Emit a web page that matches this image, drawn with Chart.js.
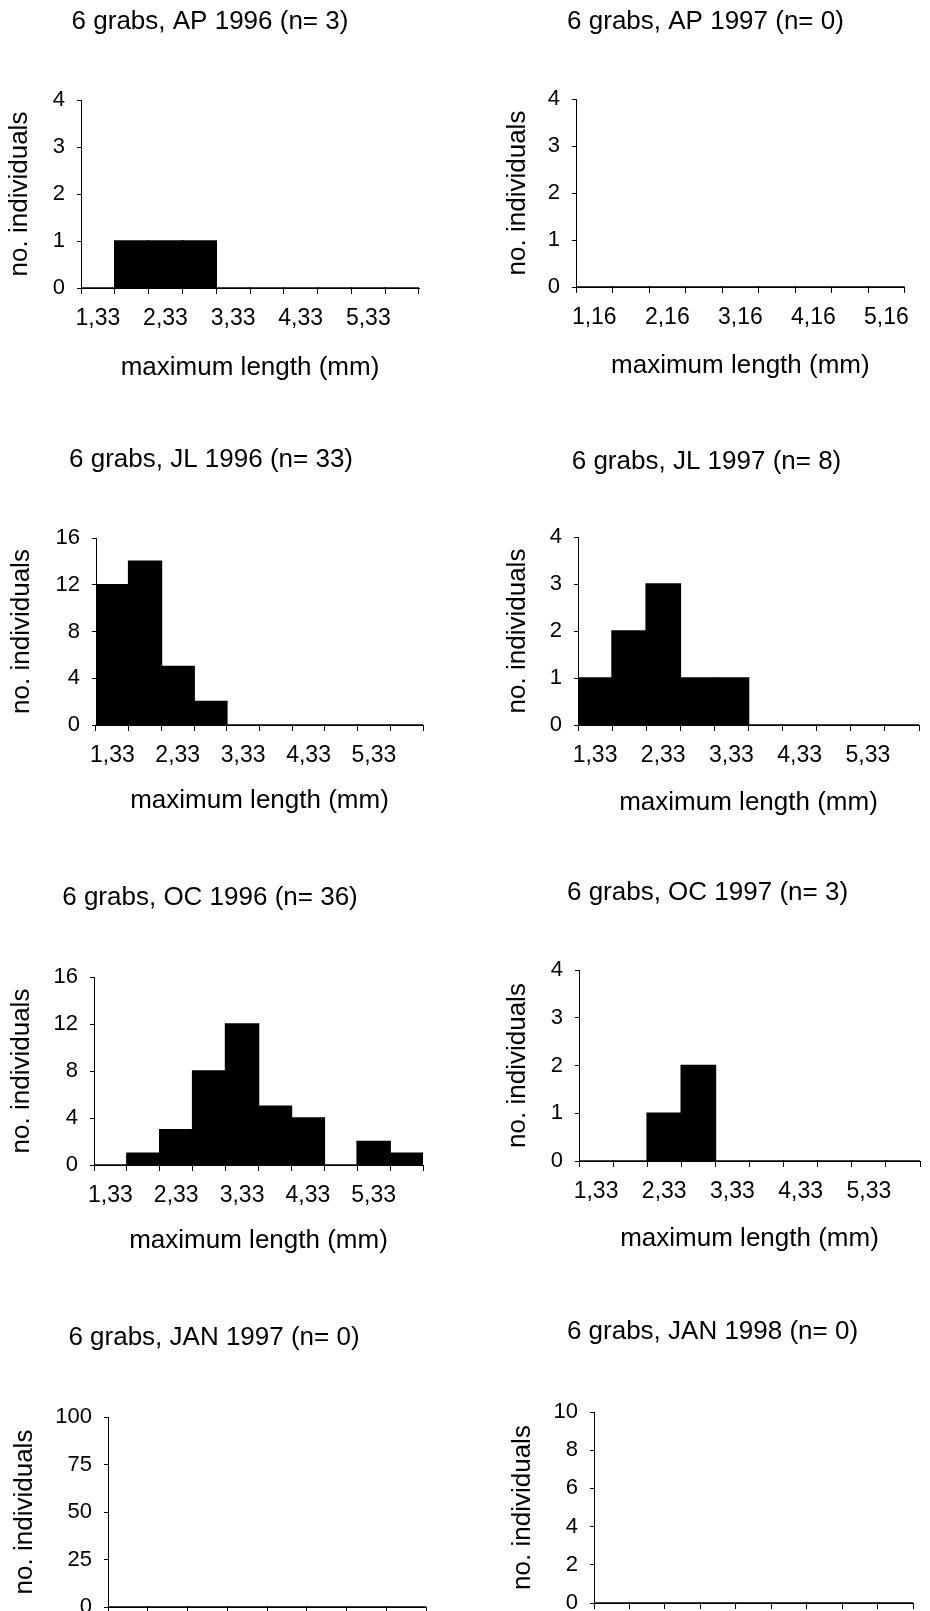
<!DOCTYPE html>
<html>
<head>
<meta charset="utf-8">
<script src="https://cdn.jsdelivr.net/npm/chart.js@4.4.1/dist/chart.umd.min.js"></script>
<style>
  html, body { margin: 0; padding: 0; background: #fff; }
  #page { position: relative; width: 930px; height: 1611px; overflow: hidden; background: #fff; }
  #page canvas { position: absolute; }
</style>
</head>
<body>
<div id="page"></div>
<script>
// size classes, 0.5 mm wide
const binsA = ["1,33", "1,83", "2,33", "2,83", "3,33", "3,83", "4,33", "4,83", "5,33", "5,83"];
const binsB = ["1,16", "1,66", "2,16", "2,66", "3,16", "3,66", "4,16", "4,66", "5,16"];
const binsJan97 = ["1,33", "1,83", "2,33", "2,83", "3,33", "3,83", "4,33", "4,83"];

// no. individuals per size class
const ap1996 = [0, 1, 1, 1, 0, 0, 0, 0, 0, 0];
const ap1997 = [0, 0, 0, 0, 0, 0, 0, 0, 0];
const jl1996 = [12, 14, 5, 2, 0, 0, 0, 0, 0, 0];
const jl1997 = [1, 2, 3, 1, 1, 0, 0, 0, 0, 0];
const oc1996 = [0, 1, 3, 8, 12, 5, 4, 0, 2, 1];
const oc1997 = [0, 0, 1, 2, 0, 0, 0, 0, 0, 0];
const jan1997 = [0, 0, 0, 0, 0, 0, 0, 0];
const jan1998 = [0, 0, 0, 0, 0, 0, 0, 0, 0];

const titles = [
  "6 grabs, AP 1996 (n= 3)", "6 grabs, AP 1997 (n= 0)",
  "6 grabs, JL 1996 (n= 33)", "6 grabs, JL 1997 (n= 8)",
  "6 grabs, OC 1996 (n= 36)", "6 grabs, OC 1997 (n= 3)",
  "6 grabs, JAN 1997 (n= 0)", "6 grabs, JAN 1998 (n= 0)"
];
const yMax = [4, 4, 16, 4, 16, 4, 100, 10];
const yStep = [1, 1, 4, 1, 4, 1, 25, 2];
const labelSets = [binsA, binsB, binsA, binsA, binsA, binsA, binsJan97, binsB];
const seriesSets = [ap1996, ap1997, jl1996, jl1997, oc1996, oc1997, jan1997, jan1998];

// where each panel sits on the page: title centre, plot box, axis title positions
const layout = [
  { tcx: 210,   ty: 22,   L: 81,  T: 100,  R: 419, B: 288,  yt: 20,  xt: 367 },
  { tcx: 705.5, ty: 22,   L: 576, T: 99,   R: 917, B: 287,  yt: 518, xt: 365 },
  { tcx: 211,   ty: 460,  L: 96,  T: 538,  R: 423, B: 725,  yt: 22,  xt: 800 },
  { tcx: 706.5, ty: 462,  L: 578, T: 537,  R: 919, B: 725,  yt: 518, xt: 802 },
  { tcx: 210,   ty: 898,  L: 94,  T: 977,  R: 423, B: 1165, yt: 22,  xt: 1240 },
  { tcx: 707.5, ty: 893,  L: 579, T: 970,  R: 920, B: 1161, yt: 518, xt: 1238 },
  { tcx: 214,   ty: 1338, L: 108, T: 1417, R: 426, B: 1607, yt: 25,  xt: 1684 },
  { tcx: 712.5, ty: 1332, L: 594, T: 1412, R: 926, B: 1603, yt: 523, xt: 1680 }
];

const FONT = "'Liberation Sans', Arial, Helvetica, sans-serif";
const BIG = 26;   // titles
const XTICK = 23;
const YTICK = 22;
const half = BIG * 1.2 / 2;
const page = document.getElementById("page");

titles.forEach((title, i) => {
  const g = layout[i];
  const left = 2 * g.tcx - g.R; // keeps the title centred where it is in the scan
  const top = Math.round(g.ty - 5 - half);
  const bottom = Math.round(g.xt + 5 + half);
  const padR = 3;

  const cv = document.createElement("canvas");
  cv.width = g.R + padR - left;
  cv.height = bottom - top;
  cv.style.left = left + "px";
  cv.style.top = top + "px";
  page.appendChild(cv);

  new Chart(cv.getContext("2d"), {
    type: "bar",
    data: {
      labels: labelSets[i],
      datasets: [{
        data: seriesSets[i],
        backgroundColor: "#000",
        borderWidth: 0,
        inflateAmount: 0.8,
        categoryPercentage: 1,
        barPercentage: 1,
      }],
    },
    options: {
      responsive: false,
      animation: false,
      layout: { padding: { left: 0, right: padR, top: 0, bottom: 0 } },
      plugins: {
        legend: { display: false },
        tooltip: { enabled: false },
        title: {
          display: true,
          text: title,
          color: "#000",
          font: { family: FONT, size: BIG, weight: "normal" },
          padding: { top: 5, bottom: g.T - top - 5 - 2 * half },
        },
      },
      scales: {
        x: {
          offset: true,
          grid: {
            offset: true,
            drawOnChartArea: false,
            drawTicks: true,
            tickLength: 6,
            color: "#000",
          },
          border: { display: true, color: "#000", width: 1 },
          ticks: {
            autoSkip: false,
            maxRotation: 0,
            padding: 11,
            color: "#000",
            font: { family: FONT, size: XTICK },
            // only every second class is labelled
            callback: function (val, idx) {
              return idx % 2 === 0 ? this.getLabelForValue(val) : "";
            },
          },
          title: {
            display: true,
            text: "maximum length (mm)",
            color: "#000",
            font: { family: FONT, size: BIG },
            padding: { top: 0, bottom: 5 },
          },
          afterFit: (scale) => { scale.height = bottom - g.B; },
        },
        y: {
          min: 0,
          max: yMax[i],
          grid: {
            drawOnChartArea: false,
            drawTicks: true,
            tickLength: 4,
            color: "#000",
          },
          border: { display: true, color: "#000", width: 1 },
          ticks: {
            stepSize: yStep[i],
            padding: 12,
            color: "#000",
            font: { family: FONT, size: YTICK },
          },
          title: {
            display: true,
            text: "no. individuals",
            color: "#000",
            font: { family: FONT, size: BIG },
            padding: { top: g.yt - left - half, bottom: 0 },
          },
          afterFit: (scale) => { scale.width = g.L - left; },
        },
      },
    },
  });
});
</script>
</body>
</html>
